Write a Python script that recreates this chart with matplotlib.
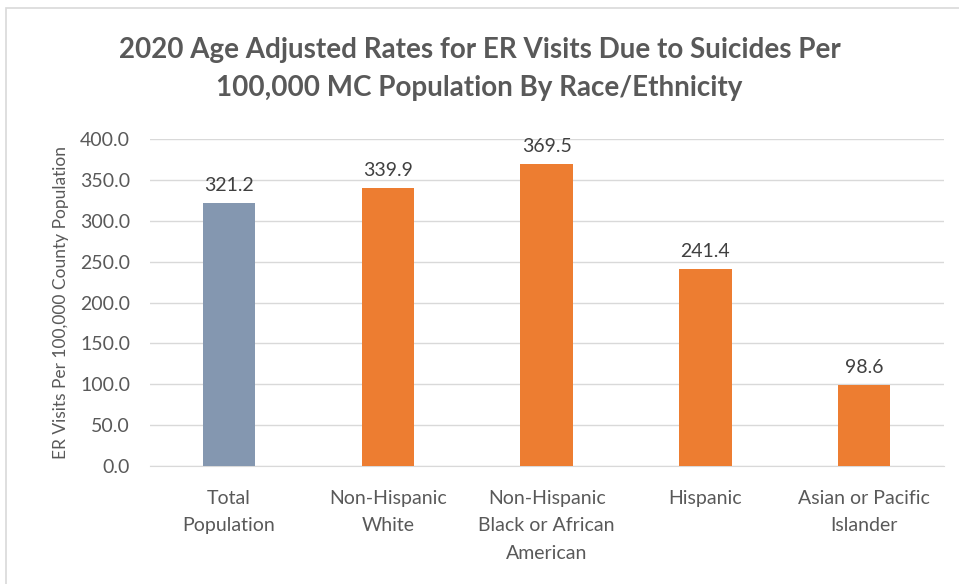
import matplotlib.pyplot as plt
from matplotlib.patches import Rectangle

categories = ['Total\nPopulation', 'Non-Hispanic\nWhite', 'Non-Hispanic\nBlack or African\nAmerican',
              'Hispanic', 'Asian or Pacific\nIslander']
rates = [321.2, 339.9, 369.5, 241.4, 98.6]
colors = ['#8497B0', '#ED7D31', '#ED7D31', '#ED7D31', '#ED7D31']
yticks = [0, 50, 100, 150, 200, 250, 300, 350, 400]

plt.rcParams['font.family'] = ['Lato', 'DejaVu Sans']
text_color = '#595959'

fig = plt.figure(figsize=(9.59, 5.84), dpi=100)
fig.patches.append(Rectangle((0.006, -0.01), 1.0, 0.997, transform=fig.transFigure,
                             fill=False, edgecolor='#D9D9D9', linewidth=1.2))
ax = fig.add_axes([0.156, 0.202, 0.828, 0.56])

x = range(len(categories))
bars = ax.bar(x, rates, width=0.33, color=colors, zorder=3)
for b, v in zip(bars, rates):
    ax.text(b.get_x() + b.get_width() / 2, v + 11, f'{v:.1f}', ha='center', va='bottom',
            fontsize=14, color='#404040')

ax.set_ylim(0, 400)
ax.set_xlim(-0.5, len(categories) - 0.5)
ax.set_yticks(yticks)
ax.set_yticklabels([f'{t:.1f}' for t in yticks], fontsize=14, color=text_color)
ax.set_xticks(list(x))
ax.set_xticklabels(categories, fontsize=14, color=text_color, linespacing=1.75)
ax.tick_params(axis='x', length=0, pad=17)
ax.tick_params(axis='y', length=0, pad=14)
ax.grid(axis='y', color='#D9D9D9', linewidth=1, zorder=0)
for s in ['top', 'right', 'left']:
    ax.spines[s].set_visible(False)
ax.spines['bottom'].set_color('#D9D9D9')
ax.set_ylabel('ER Visits Per 100,000 County Population', fontsize=12.5, color=text_color, labelpad=8)

fig.text(0.5, 0.882, '2020 Age Adjusted Rates for ER Visits Due to Suicides Per\n'
         '100,000 MC Population By Race/Ethnicity', ha='center', va='center',
         fontsize=20, fontweight='bold', color=text_color, linespacing=1.55)

fig.savefig('out.png', dpi=100)
